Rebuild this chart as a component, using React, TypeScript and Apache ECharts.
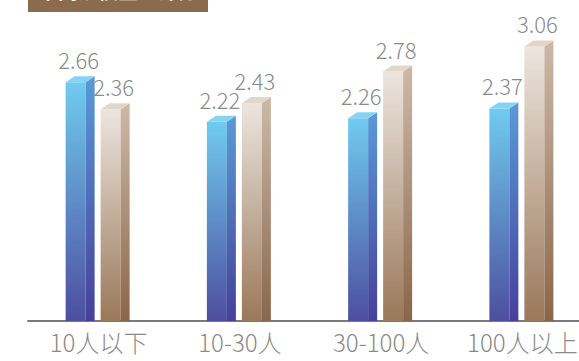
import React, { useEffect, useRef } from "react";
import * as echarts from "echarts";

const categories = ["10人以下", "10-30人", "30-100人", "100人以上"];
const seriesA = [2.66, 2.22, 2.26, 2.37];
const seriesB = [2.36, 2.43, 2.78, 3.06];
const titleText = "不同规模企业评分";

const lg = (stops: [number, string][]) =>
  new echarts.graphic.LinearGradient(0, 0, 0, 1, stops.map(([offset, color]) => ({ offset, color })));

const palettes = [
  {
    front: [[0, "#70cbef"], [1, "#4d4e9f"]] as [number, string][],
    side: [[0, "#5a9ad6"], [1, "#46409a"]] as [number, string][],
    top: "#86d4f2",
    offset: -33,
  },
  {
    front: [[0, "#ece5df"], [1, "#9a7859"]] as [number, string][],
    side: [[0, "#cdb9a9"], [1, "#8a6649"]] as [number, string][],
    top: "#e2d6cb",
    offset: 2,
  },
];

function makeRender(p: typeof palettes[0]) {
  return (params: any, api: any) => {
    const idx = api.value(0);
    const val = api.value(1);
    const top = api.coord([idx, val]);
    const base = api.coord([idx, 0]);
    const w = 20;
    const dx = 9;
    const dy = 6;
    const x0 = top[0] + p.offset;
    const x1 = x0 + w;
    const yT = top[1];
    const yB = base[1];
    return {
      type: "group",
      children: [
        {
          type: "polygon",
          shape: { points: [[x0, yT], [x1, yT], [x1, yB], [x0, yB]] },
          style: { fill: lg(p.front) },
        },
        {
          type: "polygon",
          shape: { points: [[x1, yT], [x1 + dx, yT - dy], [x1 + dx, yB], [x1, yB]] },
          style: { fill: lg(p.side) },
        },
        {
          type: "polygon",
          shape: { points: [[x0, yT], [x0 + dx, yT - dy], [x1 + dx, yT - dy], [x1, yT]] },
          style: { fill: p.top },
        },
        {
          type: "text",
          x: x0 + 13,
          y: yT - dy - 6,
          style: {
            text: val.toFixed(2),
            fill: "#8a8a8a",
            fontSize: 22,
            fontFamily: "Noto Sans CJK SC",
            fontWeight: 300,
            align: "center",
            verticalAlign: "bottom",
          },
        },
      ],
    };
  };
}

export default function App() {
  const ref = useRef<HTMLDivElement>(null);
  useEffect(() => {
    const chart = echarts.init(ref.current!, null, { renderer: "svg" });
    chart.setOption({
      animation: false,
      backgroundColor: "#ffffff",
      grid: { left: 28, width: 565, top: 7, height: 314 },
      xAxis: {
        type: "category",
        data: categories,
        axisTick: { show: false },
        axisLine: { lineStyle: { color: "#7a7a7a", width: 2 } },
        axisLabel: {
          interval: 0,
          color: "#8a8a8a",
          fontSize: 24,
          fontFamily: "Noto Sans CJK SC",
          fontWeight: 300,
          margin: 8,
        },
      },
      yAxis: {
        type: "value",
        min: 0,
        max: 3.5,
        show: false,
        splitLine: { show: false },
      },
      graphic: [
        {
          type: "rect",
          shape: { x: 28, y: 0, width: 180, height: 12 },
          style: { fill: "#8b6a4e" },
        },
        {
          type: "text",
          x: 118,
          y: 0,
          style: {
            text: titleText,
            fill: "#ffffff",
            fontSize: 20,
            fontFamily: "Noto Sans CJK SC",
            fontWeight: "bold",
            align: "center",
            verticalAlign: "bottom",
          },
        },
      ],
      series: [
        {
          type: "custom",
          name: "A",
          renderItem: makeRender(palettes[0]),
          data: seriesA.map((v, i) => [i, v]),
          clip: false,
        },
        {
          type: "custom",
          name: "B",
          renderItem: makeRender(palettes[1]),
          data: seriesB.map((v, i) => [i, v]),
          clip: false,
        },
      ],
    });
    return () => chart.dispose();
  }, []);
  return (
    <div
      style={{
        position: "absolute",
        left: 0,
        top: 0,
        width: 579,
        height: 361,
        overflow: "hidden",
        background: "#ffffff",
      }}
    >
      <div ref={ref} style={{ width: 640, height: 361 }} />
    </div>
  );
}
